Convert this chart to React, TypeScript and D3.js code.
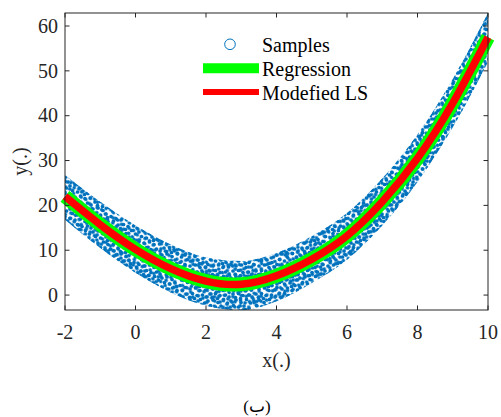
import React from "react";
import * as d3 from "d3";

// ---- data ----
const xValues = [-2, -1, 0, 1, 2, 3, 4, 5, 6, 7, 8, 9, 10];
const regressionY = [22.0, 15.7, 10.2, 5.9, 3.1, 2.4, 4.3, 8.0, 13.2, 20.8, 30.5, 42.8, 57.5];
const modifiedLsY = [22.0, 15.7, 10.2, 5.9, 3.1, 2.4, 4.3, 8.0, 13.2, 20.8, 30.5, 42.8, 57.5];
// extent of the "Samples" cloud (upper / lower edge) at each x
const samplesUpper = [26.8, 20.8, 15.5, 11.3, 8.4, 7.6, 9.4, 13.1, 18.3, 26.0, 35.8, 48.2, 62.9];
const samplesLower = [16.8, 10.5, 5.0, 0.6, -2.4, -3.4, -1.4, 2.7, 7.9, 15.5, 25.2, 37.4, 52.0];
const xTicks = [-2, 0, 2, 4, 6, 8, 10];
const yTicks = [0, 10, 20, 30, 40, 50, 60];
const legendLabels = ["Samples", "Regression", "Modefied LS"];

// ---- presentation ----
const W = 501, H = 417;
const L = 65, R = 488, T = 13, B = 310;
const FONT = "Liberation Serif, Times New Roman, DejaVu Serif, serif";
const TXT = "#262626";
const BLUE = "#0072BD";
const tileA = {
  size: 23, rot: 0,
  dots: [[1, 2], [6, 1], [11, 3.5], [16.5, 0.5], [20.5, 4], [3.5, 6.5], [8.5, 8], [14, 7], [19, 9.5], [1, 11.5], [6, 13], [11.5, 12], [16, 14.5], [21.5, 14], [3, 18], [8.5, 17.5], [13, 19.5], [18.5, 19], [22, 21], [5.5, 21.5], [10.5, 22.5], [15.5, 10.5]],
};
const tileB = {
  size: 19, rot: 33,
  dots: [[2, 2.5], [7, 0.5], [12.5, 3], [17, 1.5], [4.5, 7], [9.5, 6.5], [15, 8], [0.5, 11], [7, 11.5], [12, 12.5], [17.5, 13], [3, 15.5], [9, 16.5], [14, 17.5], [18.5, 18]],
};

type TileDef = { size: number; rot: number; dots: number[][] };

function Tile({ id, tile }: { id: string; tile: TileDef }) {
  const offs = [-tile.size, 0, tile.size];
  const circles: any[] = [];
  tile.dots.forEach(([cx, cy], i) => {
    offs.forEach((ox, a) =>
      offs.forEach((oy, b) =>
        circles.push(<circle key={`${i}-${a}-${b}`} cx={cx + ox} cy={cy + oy} r={1.85} fill={BLUE} />)
      )
    );
  });
  return (
    <pattern
      id={id}
      width={tile.size}
      height={tile.size}
      patternUnits="userSpaceOnUse"
      patternTransform={`rotate(${tile.rot})`}
    >
      {circles}
    </pattern>
  );
}

export default function App() {
  const x = d3.scaleLinear().domain([-2, 10]).range([L, R]);
  const y = d3.scaleLinear().domain([-3.33, 62.9]).range([B, T]);

  const band = d3
    .area<number>()
    .x((_, i) => x(xValues[i]))
    .y0((_, i) => y(samplesLower[i]))
    .y1((_, i) => y(samplesUpper[i]))
    .curve(d3.curveMonotoneX)(xValues);

  const line = (ys: number[]) =>
    d3
      .line<number>()
      .x((_, i) => x(xValues[i]))
      .y((_, i) => y(ys[i]))
      .curve(d3.curveNatural)(xValues) || "";

  const txt = { fontFamily: FONT, fontSize: 20 };

  return (
    <svg width={W} height={H} style={{ position: "absolute", left: 0, top: 0, background: "#fff" }}>
      <defs>
        <Tile id="dotsA" tile={tileA} />
        <Tile id="dotsB" tile={tileB} />
        <clipPath id="plotClip">
          <rect x={L} y={T} width={R - L} height={B - T} />
        </clipPath>
      </defs>
      <rect width={W} height={H} fill="#fff" />
      <g clipPath="url(#plotClip)">
        <path d={band || ""} fill="url(#dotsA)" />
        <path d={band || ""} fill="url(#dotsB)" />
      </g>
      <path d={line(regressionY)} fill="none" stroke="#00ff00" strokeWidth={14} />
      <path d={line(modifiedLsY)} fill="none" stroke="#ff0000" strokeWidth={7.5} />

      {/* axes box */}
      <rect x={L} y={T} width={R - L} height={B - T} fill="none" stroke={TXT} strokeWidth={1} />
      {xTicks.map((t) => (
        <g key={"x" + t}>
          <line x1={x(t)} x2={x(t)} y1={B} y2={B - 4.5} stroke={TXT} />
          <line x1={x(t)} x2={x(t)} y1={T} y2={T + 4.5} stroke={TXT} />
          <text x={x(t)} y={339} textAnchor="middle" style={txt} fill={TXT}>
            {t}
          </text>
        </g>
      ))}
      {yTicks.map((t) => (
        <g key={"y" + t}>
          <line x1={L} x2={L + 4.5} y1={y(t)} y2={y(t)} stroke={TXT} />
          <line x1={R} x2={R - 4.5} y1={y(t)} y2={y(t)} stroke={TXT} />
          <text x={58} y={y(t)} dy="0.34em" textAnchor="end" style={txt} fill={TXT}>
            {t}
          </text>
        </g>
      ))}
      <text x={(L + R) / 2} y={367} textAnchor="middle" style={txt} fill={TXT}>
        x(.)
      </text>
      <text
        transform={`translate(26.5, ${(T + B) / 2}) rotate(-90)`}
        textAnchor="middle"
        style={txt}
        fill={TXT}
      >
        y(.)
      </text>

      {/* legend */}
      <circle cx={230} cy={44.3} r={5.3} fill="none" stroke={BLUE} strokeWidth={1} />
      <line x1={203} x2={259} y1={68.3} y2={68.3} stroke="#00ff00" strokeWidth={10} />
      <line x1={203} x2={259} y1={92} y2={92} stroke="#ff0000" strokeWidth={6} />
      {legendLabels.map((s, i) => (
        <text key={s} x={262} y={52 + i * 24} style={txt} fill="#000">
          {s}
        </text>
      ))}

      <text x={257} y={412} textAnchor="middle" style={{ fontFamily: "Liberation Serif, DejaVu Sans, serif", fontSize: 17 }} fill="#000">
        (ب)
      </text>
    </svg>
  );
}
